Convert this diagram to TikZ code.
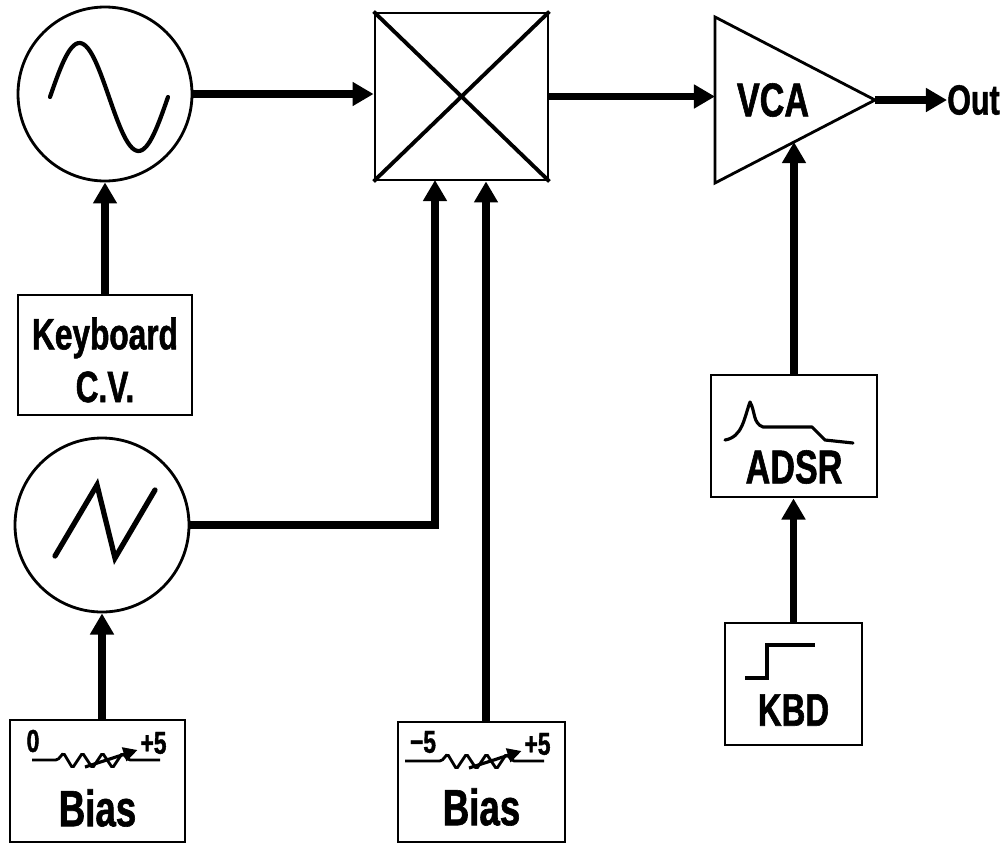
\documentclass[tikz,border=0pt]{standalone}
\usepackage{fontspec}
\setmainfont{Liberation Sans}[FakeStretch=0.72, BoldFeatures={FakeBold=1.2}]
\usetikzlibrary{arrows.meta}
\tikzset{
  blk/.style={draw, line width=1.6pt, inner sep=0pt},
  osc/.style={blk, circle, minimum size=3.48cm},
  lbl/.style={font=\bfseries\fontsize{#1}{#1}\selectfont, inner sep=0pt},
  sig/.style={line width=4.5pt, line join=miter, -{Triangle[width=13pt,length=12pt]}},
  icon/.style={line width=2.4pt, line cap=round, line join=round},
}
% bias pot: box, left label, label x, line start x
\newcommand{\biaspot}[4]{%
  \begin{scope}[shift={(#1.center)}]
    \draw[line width=1.6pt, rounded corners=1pt] (#4,0.42) -- (-0.8,0.42) -- (-0.68,0.56) -- (-0.5,0.26) -- (-0.3,0.56) -- (-0.1,0.26) -- (0.1,0.56) -- (0.3,0.26) -- (0.5,0.56) -- (0.62,0.42) -- (1.25,0.42);
    \draw[line width=1.8pt, -{Triangle[width=8pt,length=8pt]}] (-0.25,0.28) -- (0.8,0.62);
    \node[lbl=18] (#1lo) at (#3,0.8) {#2};
    \node[lbl=18] (#1hi) at (1.12,0.76) {+5};
  \end{scope}}
\begin{document}
\begin{tikzpicture}
  \useasboundingbox (0,0) rectangle (20.12,-16.88);
  %%%%% BLOCKS %%%%%
  \node[osc] (sine) at (2.1,-1.88) {};
  \draw[icon, shift={(sine.center)}] plot[domain=0:360, samples=60, smooth] ({-1.1+\x/360*2.36}, {-0.06+1.08*sin(\x)});

  \node[blk, minimum width=3.46cm, minimum height=3.34cm] (mix) at (9.23,-1.93) {};
  \draw[line width=2.2pt] (mix.north west) -- (mix.south east) (mix.north east) -- (mix.south west);

  \draw[line width=1.6pt, line join=miter] (14.3,-0.34) -- (17.5,-2.0) -- (14.3,-3.66) -- cycle;
  \coordinate (vcain) at (14.3,-1.94);
  \coordinate (vcaout) at (17.5,-2.0);
  \coordinate (vcactl) at (15.88,-2.84);
  \node[lbl=27] (vca) at (15.46,-2.0) {VCA};
  \node[lbl=24, anchor=west] (out) at (18.94,-2.0) {Out};

  \node[blk, minimum width=3.48cm, minimum height=2.4cm] (kbdcv) at (2.1,-7.1) {};
  \node[lbl=25, align=center, font=\bfseries\fontsize{25}{30}\selectfont] (kbdcvtxt) at ([yshift=-0.1cm]kbdcv.center) {Keyboard\\C.V.};

  \node[osc] (saw) at (2.04,-10.5) {};
  \draw[icon, line width=3pt, line join=miter, shift={(saw.center)}] (-0.94,-0.62) -- (-0.1,0.8) -- (0.26,-0.66) -- (1.06,0.7);

  \node[blk, minimum width=3.5cm, minimum height=2.44cm] (bias1) at (1.95,-15.62) {};
  \biaspot{bias1}{0}{-1.29}{-1.31}
  \node[lbl=29] (bias1txt) at ([yshift=-0.54cm]bias1.center) {Bias};

  \node[blk, minimum width=3.34cm, minimum height=2.4cm] (bias2) at (9.63,-15.64) {};
  \biaspot{bias2}{−5}{-1.17}{-1.53}
  \node[lbl=29] (bias2txt) at ([yshift=-0.5cm]bias2.center) {Bias};

  \node[blk, minimum width=3.32cm, minimum height=2.44cm] (adsr) at (15.88,-8.72) {};
  \draw[icon, line width=1.8pt, shift={(adsr.center)}] (-1.38,-0.08) to[out=10,in=-110] (-0.88,0.68) to[out=-60,in=160] (-0.62,0.18) -- (0.36,0.18) -- (0.62,-0.08) -- (1.18,-0.14);
  \node[lbl=27] (adsrtxt) at ([yshift=-0.62cm]adsr.center) {ADSR};

  \node[blk, minimum width=2.74cm, minimum height=2.44cm] (kbd) at (15.87,-13.68) {};
  \draw[icon, line width=2pt, line join=miter, line cap=butt, shift={(kbd.center)}] (-0.97,0.12) -- (-0.53,0.12) -- (-0.53,0.78) -- (0.43,0.78);
  \node[lbl=26] (kbdtxt) at ([yshift=-0.52cm]kbd.center) {KBD};

  %%%%% SIGNALS %%%%%
  \coordinate (mixin1) at (8.7,-3.6);
  \draw[sig] (sine.east) -- (sine.east -| mix.west);
  \draw[sig] (mix.east) -- (mix.east -| vcain);
  \draw[sig] (vcaout) -- (out.west);
  \draw[sig] (kbdcv.north) -- (sine.south);
  \draw[sig] (saw.east) -| (mixin1);
  \draw[sig] (saw.south |- bias1.north) -- (saw.south);
  \draw[sig] ([xshift=0.09cm]bias2.north) -- ([xshift=0.09cm]bias2.north |- mix.south);
  \draw[sig] (adsr.north) -- (vcactl);
  \draw[sig] (kbd.north) -- (kbd.north |- adsr.south);
\end{tikzpicture}
\end{document}
